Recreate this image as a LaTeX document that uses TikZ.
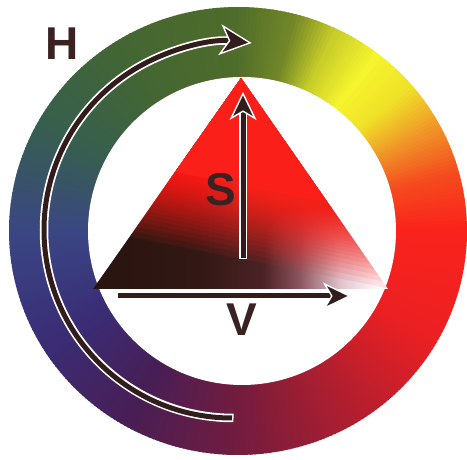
\documentclass[tikz,border=0pt]{standalone}
\usepackage{fontspec}
\setmainfont{Liberation Sans}
\usetikzlibrary{arrows.meta}
% ring hue anchors
\definecolor{k0}{RGB}{250,35,28}
\definecolor{k1}{RGB}{245,75,30}
\definecolor{k2}{RGB}{240,150,40}
\definecolor{k3}{RGB}{240,225,40}
\definecolor{k4}{RGB}{245,245,45}
\definecolor{k5}{RGB}{200,205,40}
\definecolor{k6}{RGB}{115,135,40}
\definecolor{k7}{RGB}{78,108,42}
\definecolor{k8}{RGB}{68,102,50}
\definecolor{k9}{RGB}{55,95,78}
\definecolor{k10}{RGB}{58,70,132}
\definecolor{k11}{RGB}{58,45,118}
\definecolor{k12}{RGB}{72,30,85}
\definecolor{k13}{RGB}{115,28,62}
\definecolor{k14}{RGB}{175,30,48}
\definecolor{k15}{RGB}{235,32,35}
% triangle colours
\definecolor{tred}{RGB}{250,32,25}
\definecolor{b0}{RGB}{40,20,15}
\definecolor{b1}{RGB}{50,24,20}
\definecolor{b2}{RGB}{75,35,38}
\definecolor{b3}{RGB}{140,85,95}
\definecolor{b4}{RGB}{225,195,205}
\definecolor{b5}{RGB}{255,248,252}
\definecolor{ink}{RGB}{50,28,28}
\definecolor{txt}{RGB}{58,34,34}
\pgfdeclarehorizontalshading{tribot}{100bp}{color(0bp)=(b0); color(25bp)=(b0); color(43bp)=(b1); color(54bp)=(b2); color(60bp)=(b3); color(67bp)=(b4); color(73bp)=(b5); color(100bp)=(b5)}
\tikzset{
  axisglow/.style={white, line width=8.5pt},
  axisline/.style={ink, line width=5pt},
  bigtip/.tip={Stealth[length=32pt, width=31pt, inset=9pt, fill=ink, color=white, line width=1.4pt]},
  midtip/.tip={Stealth[length=28pt, width=27pt, inset=8pt, fill=ink, color=white, line width=1.4pt]},
  lbl/.style={font=\bfseries\fontsize{46}{46}\selectfont, text=txt, inner sep=0pt},
  redlayer/.style={tred, fill opacity=0.1},
}
\begin{document}
\begin{tikzpicture}[x=1pt,y=1pt]
\useasboundingbox (0,0) rectangle (467,460);
\fill[white] (0,0) rectangle (467,460);
% hue ring
\begin{scope}[shift={(238,229)}]
\foreach \a/\b/\ca/\cb in {0/15/k0/k1, 15/28/k1/k2, 28/40/k2/k3, 40/52/k3/k4, 52/64/k4/k5, 64/75/k5/k6, 75/90/k6/k7, 90/120/k7/k8, 120/150/k8/k9, 150/180/k9/k10, 180/210/k10/k11, 210/240/k11/k12, 240/270/k12/k13, 270/300/k13/k14, 300/330/k14/k15, 330/360/k15/k0}{
  \pgfmathtruncatemacro\myn{\b-\a-1}
  \foreach \i in {0,...,\myn}{
    \pgfmathtruncatemacro\myp{round(100*\i/(\b-\a))}
    \pgfmathsetmacro\angA{\a+\i}
    \pgfmathsetmacro\angB{\a+\i+1.4}
    \fill[\cb!\myp!\ca] (0,0) -- (\angA:229pt and 224pt) -- (\angB:229pt and 224pt) -- cycle;
  }
}
\end{scope}
\fill[white] (242,229) circle (154);
% triangle
\coordinate (tl) at (93,171);
\coordinate (tt) at (241,382);
\coordinate (tr) at (388,171);
\begin{scope}
\clip (tl) -- (tt) -- (tr) -- cycle;
\shade[shading=tribot] (93,171) rectangle (388,382);
% red blended over a soft tilted band
\foreach \k in {1,...,40}{
  \pgfmathsetmacro\dd{-40+80*(1-0.92^\k)}
  \fill[redlayer] (60,{271+\dd}) -- (420,{199+\dd}) -- (420,400) -- (60,400) -- cycle;
}
\fill[tred] (60,311) -- (420,239) -- (420,400) -- (60,400) -- cycle;
\end{scope}
% S arrow
\coordinate (sbot) at (243,202);
\coordinate (stop) at (243,368);
\draw[axisglow, shorten >=20pt, shorten <=-1.5pt] (sbot) -- (stop);
\draw[axisline, -{midtip}] (sbot) -- (stop);
% V arrow
\coordinate (vl) at (118,164);
\coordinate (vr) at (351,164);
\draw[axisglow, shorten >=20pt, shorten <=-1.5pt] (vl) -- (vr);
\draw[axisline, -{midtip}] (vl) -- (vr);
% H arc arrow
\coordinate (hstart) at (232,42);
\draw[axisglow, shorten >=22pt, shorten <=-1.5pt] (hstart) arc[start angle=270, end angle=84, radius=188];
\draw[axisline, -{bigtip}] (hstart) arc[start angle=270, end angle=84, radius=188];
% labels
\node[lbl] (H) at (62,416) {H};
\node[lbl] (S) at (221,270) {S};
\node[lbl] (V) at (242,140) {V};
\end{tikzpicture}
\end{document}
